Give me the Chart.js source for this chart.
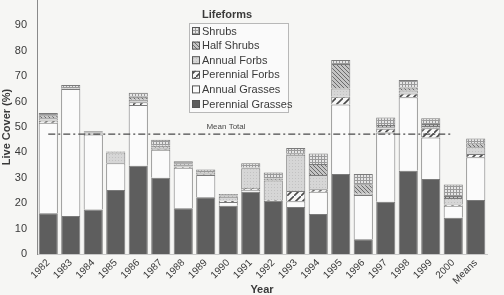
<!DOCTYPE html>
<html>
<head>
<meta charset="utf-8">
<script src="https://cdn.jsdelivr.net/npm/chart.js@4/dist/chart.umd.min.js"></script>
<style>
  html, body { margin: 0; padding: 0; background: #f6f6f4; overflow: hidden; }
  #wrap { width: 504px; height: 295px; position: relative; }
</style>
</head>
<body>
<div id="wrap"><canvas id="lifeforms"></canvas></div>
<script>
const years = ["1982", "1983", "1984", "1985", "1986", "1987", "1988", "1989", "1990", "1991",
  "1992", "1993", "1994", "1995", "1996", "1997", "1998", "1999", "2000", "Means"];

const perennialGrasses = [16, 15, 17.5, 25.2, 34.7, 30, 18, 22.3, 19, 24.5, 21, 18.5, 15.7, 31.5, 5.8, 20.6, 32.8, 29.5, 14.3, 21.3];
const annualGrasses = [35.7, 50, 29.5, 10.5, 24, 11, 16, 8.8, 1.5, 0.8, 0, 2.3, 8.8, 27.4, 17.4, 27.2, 28.9, 16.4, 4.7, 16.8];
const perennialForbs = [0.9, 0, 0.3, 0, 1, 0.3, 0.4, 0.3, 0.5, 0.7, 0.3, 4, 1, 3, 0, 1.5, 1.5, 3.6, 0.5, 1.3];
const annualForbs = [0.8, 0.3, 0.5, 4.3, 1, 0.5, 0.7, 0.5, 1.5, 7.8, 7.6, 14.3, 5.6, 3.3, 0.5, 0.6, 1.2, 0.9, 2.5, 2.6];
const halfShrubs = [1.2, 0, 0, 0.3, 1.2, 0.8, 0.6, 0.3, 0.5, 0.3, 0.8, 0.6, 4.3, 9.6, 3.8, 0.9, 1.2, 0.8, 0.8, 1.6];
const shrubs = [0.9, 1.2, 0.5, 0.2, 1.6, 2.4, 0.8, 1.1, 0.6, 1.6, 2.4, 2, 4.2, 1.6, 4, 2.9, 2.9, 2.2, 4.6, 1.9];

const meanTotal = 47.2;
const meanLine = years.map((y) => (y === "Means" ? null : meanTotal));

const FONT = "'Liberation Sans', Arial, sans-serif";
const INK = "#3a3a3a";

// small canvas patterns for the hatched fills
const makePattern = (size, draw) => {
  const c = document.createElement("canvas");
  c.width = size;
  c.height = size;
  const g = c.getContext("2d");
  draw(g, size);
  return document.getElementById("lifeforms").getContext("2d").createPattern(c, "repeat");
};

const gridFill = makePattern(3, (g, s) => {
  g.fillStyle = "#e6e6e6";
  g.fillRect(0, 0, s, s);
  g.fillStyle = "#9a9a9a";
  g.fillRect(0, 0, s, 1);
  g.fillRect(0, 0, 1, s);
});

const crossFill = makePattern(4, (g, s) => {
  g.fillStyle = "#c4c4c4";
  g.fillRect(0, 0, s, s);
  g.strokeStyle = "#6a6a6a";
  g.lineWidth = 1;
  g.beginPath();
  g.moveTo(0, 0);
  g.lineTo(s, s);
  g.stroke();
});

const dotFill = makePattern(3, (g, s) => {
  g.fillStyle = "#d6d6d6";
  g.fillRect(0, 0, s, s);
  g.fillStyle = "#c2c2c2";
  g.fillRect(1, 1, 1, 1);
});

const slashFill = makePattern(7, (g, s) => {
  g.fillStyle = "#f8f8f8";
  g.fillRect(0, 0, s, s);
  g.strokeStyle = "#4a4a4a";
  g.lineWidth = 1.6;
  g.beginPath();
  g.moveTo(-1, s + 1);
  g.lineTo(s + 1, -1);
  g.stroke();
});

const series = [
  { label: "Perennial Grasses", data: perennialGrasses, fill: "#5e5e5e" },
  { label: "Annual Grasses", data: annualGrasses, fill: "#fbfbfb" },
  { label: "Perennial Forbs", data: perennialForbs, fill: slashFill },
  { label: "Annual Forbs", data: annualForbs, fill: dotFill },
  { label: "Half Shrubs", data: halfShrubs, fill: crossFill },
  { label: "Shrubs", data: shrubs, fill: gridFill },
];

// legend and "Mean Total" label drawn inside the plot
const lifeformsLegend = {
  id: "lifeformsLegend",
  afterDatasetsDraw(chart) {
    const { ctx, scales } = chart;
    ctx.save();

    const yMean = scales.y.getPixelForValue(meanTotal);
    ctx.font = "8px " + FONT;
    ctx.fillStyle = "#4a4a4a";
    ctx.textAlign = "center";
    ctx.textBaseline = "bottom";
    ctx.fillText("Mean Total", 226, yMean - 3);

    const bx = 189, by = 23, bw = 99, bh = 89;
    ctx.fillStyle = "#fafafa";
    ctx.fillRect(bx, by, bw, bh);
    ctx.strokeStyle = "#b8b8b8";
    ctx.lineWidth = 1;
    ctx.strokeRect(bx + 0.5, by + 0.5, bw, bh);

    ctx.font = "bold 11px " + FONT;
    ctx.fillStyle = INK;
    ctx.textBaseline = "middle";
    ctx.fillText("Lifeforms", 227, 15);

    ctx.font = "11px " + FONT;
    ctx.textAlign = "left";
    const items = series.slice().reverse();
    items.forEach((s, i) => {
      const cy = 31 + i * 14.6;
      ctx.fillStyle = s.fill;
      ctx.fillRect(192, cy - 4, 8, 8);
      ctx.strokeStyle = "#555";
      ctx.strokeRect(192.5, cy - 3.5, 7, 7);
      ctx.fillStyle = INK;
      ctx.fillText(s.label, 202, cy + 0.5);
    });
    ctx.restore();
  },
};

new Chart(document.getElementById("lifeforms"), {
  type: "bar",
  data: {
    labels: years,
    datasets: [
      {
        type: "line",
        label: "Mean Total",
        data: meanLine,
        borderColor: "#4a4a4a",
        borderWidth: 1.3,
        borderDash: [7, 3, 2, 3],
        pointRadius: 0,
        fill: false,
        order: 0,
        stack: "mean",
      },
      ...series.map((s) => ({
        label: s.label,
        data: s.data,
        backgroundColor: s.fill,
        borderColor: "#7a7a7a",
        borderWidth: 1,
        barPercentage: 0.85,
        categoryPercentage: 1,
        stack: "cover",
        order: 1,
      })),
    ],
  },
  options: {
    responsive: true,
    maintainAspectRatio: false,
    animation: false,
    layout: { padding: { top: 0, right: 17, left: 0, bottom: 0 } },
    plugins: {
      legend: { display: false },
      tooltip: { enabled: false },
    },
    scales: {
      x: {
        stacked: true,
        offset: true,
        grid: { display: false, drawTicks: false },
        border: { color: "#c8c8c8" },
        afterFit: (s) => {
          s.height = 41;
          s.paddingLeft = 0;
          s.paddingRight = 0;
        },
        ticks: {
          color: INK,
          font: { family: FONT, size: 10 },
          maxRotation: 45,
          minRotation: 45,
          padding: 3,
        },
        title: {
          display: true,
          text: "Year",
          color: INK,
          font: { family: FONT, size: 11, weight: "bold" },
          padding: { top: 0, bottom: -2 },
        },
      },
      y: {
        stacked: true,
        min: 0,
        max: 100,
        grid: { display: false, drawTicks: false },
        border: { color: "#8a8a8a" },
        afterFit: (s) => {
          s.width = 37;
          s.paddingTop = 0;
          s.paddingBottom = 0;
        },
        ticks: {
          stepSize: 10,
          color: INK,
          font: { family: FONT, size: 11 },
          padding: 10,
          callback: (v) => (v === 100 ? "" : v),
        },
        title: {
          display: true,
          text: "Live Cover (%)",
          color: INK,
          font: { family: FONT, size: 11, weight: "bold" },
          padding: { top: 0, bottom: 0 },
        },
      },
    },
  },
  plugins: [lifeformsLegend],
});
</script>
</body>
</html>
